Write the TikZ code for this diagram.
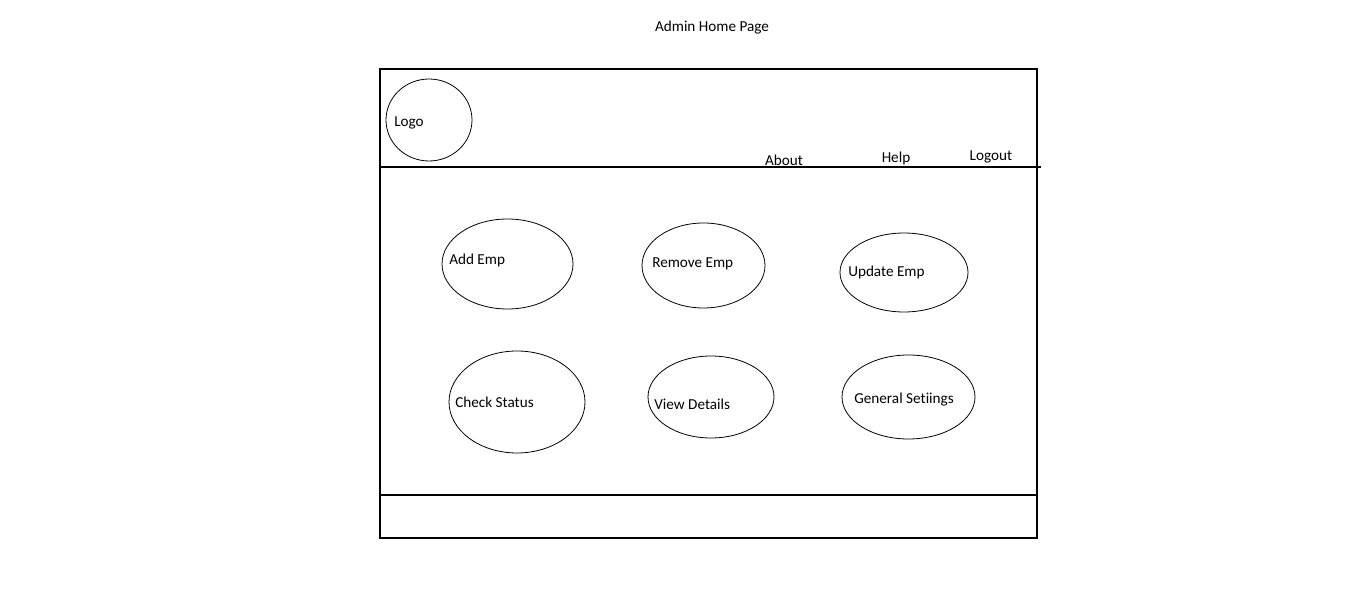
\documentclass[tikz,border=0pt]{standalone}
\usepackage{fontspec}
\setmainfont[Ligatures=NoCommon]{Carlito}
\usetikzlibrary{shapes.geometric}
\begin{document}
\begin{tikzpicture}[x=0.75pt,y=-0.75pt,
  frame/.style={draw=black,line width=0.8pt},
  oval/.style={draw=black,line width=0.6pt,ellipse,inner sep=0pt},
  lbl/.style={font=\fontsize{11.4}{13}\selectfont,inner sep=0pt,anchor=west},
  toplbl/.style={font=\fontsize{11.4}{13}\selectfont,inner sep=0pt}]
\useasboundingbox[fill=white] (0,0) rectangle (1366,605);
\node[toplbl] (title) at (712,28) {Admin Home Page};
\draw[frame] (380,69) rectangle (1037,538);
\coordinate (hl) at (380,167); \coordinate (hr) at (1041,167);
\draw[frame] (hl) -- (hr);
\coordinate (fl) at (380,495); \coordinate (fr) at (1037,495);
\draw[frame] (fl) -- (fr);
% logo
\node[oval,minimum width=64.5pt,minimum height=61.5pt] (logo) at (429,120) {};
\node[lbl] (logot) at (394,123) {Logo};
\node[toplbl] (about) at (784,160) {About};
\node[toplbl] (help) at (896,158.5) {Help};
\node[toplbl] (logout) at (991,156.5) {Logout};
% ovals
\node[oval,minimum width=98.25pt,minimum height=67.5pt] (add) at (507.5,264) {};
\node[lbl] (addt) at (449,260) {Add Emp};
\node[oval,minimum width=92.25pt,minimum height=63.75pt] (rem) at (703.5,265.5) {};
\node[lbl] (remt) at (652,264) {Remove Emp};
\node[oval,minimum width=96pt,minimum height=59.25pt] (upd) at (904,272.5) {};
\node[lbl] (updt) at (848,272) {Update Emp};
\node[oval,minimum width=102pt,minimum height=76.5pt] (chk) at (517,402) {};
\node[lbl] (chkt) at (455,402) {Check Status};
\node[oval,minimum width=94.5pt,minimum height=61.5pt] (view) at (711,397) {};
\node[lbl] (viewt) at (654,404) {View Details};
\node[oval,minimum width=99.75pt,minimum height=63pt] (gen) at (908.5,397) {};
\node[lbl] (gent) at (854,400) {General Setiings};
\end{tikzpicture}
\end{document}
